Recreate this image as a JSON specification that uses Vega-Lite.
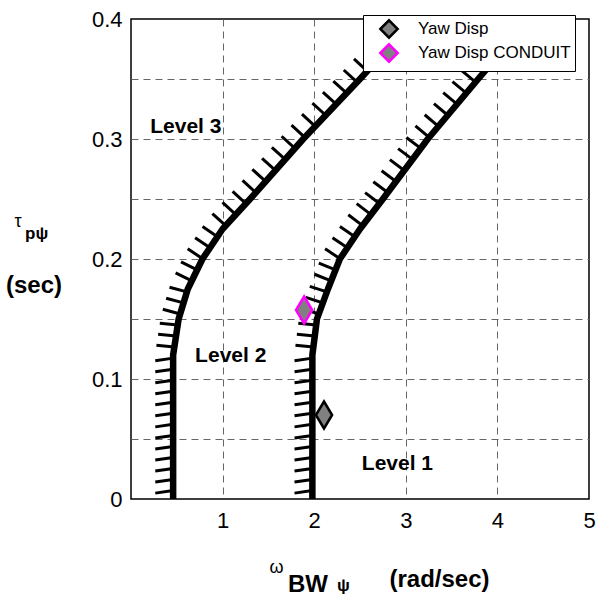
{
  "$schema": "https://vega.github.io/schema/vega-lite/v6.json",
  "width": 458,
  "height": 480,
  "autosize": {"type": "none"},
  "padding": {"left": 131, "top": 19, "right": 11, "bottom": 97},
  "background": "white",
  "config": {
    "font": "Liberation Sans",
    "view": {"stroke": "black", "strokeWidth": 1.5},
    "axis": {"labelColor": "black", "labelFont": "Liberation Sans"}
  },
  "datasets": {
    "curves": [
      {"c": "L", "x": 0.46, "y": 0}, {"c": "L", "x": 0.46, "y": 0.12}, {"c": "L", "x": 0.52, "y": 0.15},
      {"c": "L", "x": 0.62, "y": 0.175}, {"c": "L", "x": 0.78, "y": 0.2}, {"c": "L", "x": 1.0, "y": 0.225},
      {"c": "L", "x": 1.3, "y": 0.25}, {"c": "L", "x": 1.88, "y": 0.3}, {"c": "L", "x": 2.5, "y": 0.35},
      {"c": "L", "x": 3.1, "y": 0.4},
      {"c": "R", "x": 1.98, "y": 0}, {"c": "R", "x": 1.98, "y": 0.12}, {"c": "R", "x": 2.03, "y": 0.15},
      {"c": "R", "x": 2.15, "y": 0.175}, {"c": "R", "x": 2.28, "y": 0.2}, {"c": "R", "x": 2.5, "y": 0.225},
      {"c": "R", "x": 2.75, "y": 0.25}, {"c": "R", "x": 3.24, "y": 0.3}, {"c": "R", "x": 3.79, "y": 0.35},
      {"c": "R", "x": 4.35, "y": 0.4}
    ],
    "hatch": [
      {"c": "L", "x": 0.46, "y": 0.007, "x2": 0.265, "y2": 0.0049},
      {"c": "L", "x": 0.46, "y": 0.0162, "x2": 0.265, "y2": 0.0141},
      {"c": "L", "x": 0.46, "y": 0.0254, "x2": 0.265, "y2": 0.0233},
      {"c": "L", "x": 0.46, "y": 0.0346, "x2": 0.265, "y2": 0.0325},
      {"c": "L", "x": 0.46, "y": 0.0438, "x2": 0.265, "y2": 0.0417},
      {"c": "L", "x": 0.46, "y": 0.053, "x2": 0.265, "y2": 0.0509},
      {"c": "L", "x": 0.46, "y": 0.0622, "x2": 0.265, "y2": 0.0601},
      {"c": "L", "x": 0.46, "y": 0.0714, "x2": 0.265, "y2": 0.0693},
      {"c": "L", "x": 0.46, "y": 0.0806, "x2": 0.265, "y2": 0.0785},
      {"c": "L", "x": 0.46, "y": 0.0898, "x2": 0.265, "y2": 0.0877},
      {"c": "L", "x": 0.46, "y": 0.099, "x2": 0.265, "y2": 0.0969},
      {"c": "L", "x": 0.46, "y": 0.1082, "x2": 0.265, "y2": 0.1061},
      {"c": "L", "x": 0.46, "y": 0.1174, "x2": 0.265, "y2": 0.1153},
      {"c": "L", "x": 0.4732, "y": 0.1266, "x2": 0.2777, "y2": 0.1281},
      {"c": "L", "x": 0.4916, "y": 0.1358, "x2": 0.2961, "y2": 0.1373},
      {"c": "L", "x": 0.51, "y": 0.145, "x2": 0.3145, "y2": 0.1465},
      {"c": "L", "x": 0.5368, "y": 0.1542, "x2": 0.347, "y2": 0.1581},
      {"c": "L", "x": 0.5736, "y": 0.1634, "x2": 0.3838, "y2": 0.1673},
      {"c": "L", "x": 0.6104, "y": 0.1726, "x2": 0.4206, "y2": 0.1765},
      {"c": "L", "x": 0.6635, "y": 0.1818, "x2": 0.4869, "y2": 0.1884},
      {"c": "L", "x": 0.7224, "y": 0.191, "x2": 0.5458, "y2": 0.1976},
      {"c": "L", "x": 0.7818, "y": 0.2002, "x2": 0.6189, "y2": 0.2086},
      {"c": "L", "x": 0.8627, "y": 0.2094, "x2": 0.6998, "y2": 0.2178},
      {"c": "L", "x": 0.9437, "y": 0.2186, "x2": 0.7808, "y2": 0.227},
      {"c": "L", "x": 1.0336, "y": 0.2278, "x2": 0.8886, "y2": 0.2379},
      {"c": "L", "x": 1.144, "y": 0.237, "x2": 0.999, "y2": 0.2471},
      {"c": "L", "x": 1.2544, "y": 0.2462, "x2": 1.1094, "y2": 0.2563},
      {"c": "L", "x": 1.3626, "y": 0.2554, "x2": 1.2176, "y2": 0.2655},
      {"c": "L", "x": 1.4694, "y": 0.2646, "x2": 1.3244, "y2": 0.2747},
      {"c": "L", "x": 1.5761, "y": 0.2738, "x2": 1.4311, "y2": 0.2839},
      {"c": "L", "x": 1.6828, "y": 0.283, "x2": 1.5378, "y2": 0.2931},
      {"c": "L", "x": 1.7895, "y": 0.2922, "x2": 1.6445, "y2": 0.3023},
      {"c": "L", "x": 1.8974, "y": 0.3014, "x2": 1.7524, "y2": 0.3115},
      {"c": "L", "x": 2.0114, "y": 0.3106, "x2": 1.8664, "y2": 0.3207},
      {"c": "L", "x": 2.1255, "y": 0.3198, "x2": 1.9805, "y2": 0.3299},
      {"c": "L", "x": 2.2396, "y": 0.329, "x2": 2.0946, "y2": 0.3391},
      {"c": "L", "x": 2.3537, "y": 0.3382, "x2": 2.2087, "y2": 0.3483},
      {"c": "L", "x": 2.4678, "y": 0.3474, "x2": 2.3228, "y2": 0.3575},
      {"c": "L", "x": 2.5792, "y": 0.3566, "x2": 2.4342, "y2": 0.3667},
      {"c": "L", "x": 2.6896, "y": 0.3658, "x2": 2.5446, "y2": 0.3759},
      {"c": "L", "x": 2.8, "y": 0.375, "x2": 2.655, "y2": 0.3851},
      {"c": "L", "x": 2.9104, "y": 0.3842, "x2": 2.7654, "y2": 0.3943},
      {"c": "L", "x": 3.0208, "y": 0.3934, "x2": 2.8758, "y2": 0.4035},
      {"c": "R", "x": 1.98, "y": 0.007, "x2": 1.785, "y2": 0.0049},
      {"c": "R", "x": 1.98, "y": 0.0162, "x2": 1.785, "y2": 0.0141},
      {"c": "R", "x": 1.98, "y": 0.0254, "x2": 1.785, "y2": 0.0233},
      {"c": "R", "x": 1.98, "y": 0.0346, "x2": 1.785, "y2": 0.0325},
      {"c": "R", "x": 1.98, "y": 0.0438, "x2": 1.785, "y2": 0.0417},
      {"c": "R", "x": 1.98, "y": 0.053, "x2": 1.785, "y2": 0.0509},
      {"c": "R", "x": 1.98, "y": 0.0622, "x2": 1.785, "y2": 0.0601},
      {"c": "R", "x": 1.98, "y": 0.0714, "x2": 1.785, "y2": 0.0693},
      {"c": "R", "x": 1.98, "y": 0.0806, "x2": 1.785, "y2": 0.0785},
      {"c": "R", "x": 1.98, "y": 0.0898, "x2": 1.785, "y2": 0.0877},
      {"c": "R", "x": 1.98, "y": 0.099, "x2": 1.785, "y2": 0.0969},
      {"c": "R", "x": 1.98, "y": 0.1082, "x2": 1.785, "y2": 0.1061},
      {"c": "R", "x": 1.98, "y": 0.1174, "x2": 1.785, "y2": 0.1153},
      {"c": "R", "x": 1.991, "y": 0.1266, "x2": 1.7955, "y2": 0.1281},
      {"c": "R", "x": 2.0063, "y": 0.1358, "x2": 1.8108, "y2": 0.1373},
      {"c": "R", "x": 2.0217, "y": 0.145, "x2": 1.8262, "y2": 0.1465},
      {"c": "R", "x": 2.0502, "y": 0.1542, "x2": 1.8633, "y2": 0.1588},
      {"c": "R", "x": 2.0943, "y": 0.1634, "x2": 1.9074, "y2": 0.168},
      {"c": "R", "x": 2.1385, "y": 0.1726, "x2": 1.9516, "y2": 0.1772},
      {"c": "R", "x": 2.1854, "y": 0.1818, "x2": 2.0027, "y2": 0.1873},
      {"c": "R", "x": 2.2332, "y": 0.191, "x2": 2.0505, "y2": 0.1965},
      {"c": "R", "x": 2.2818, "y": 0.2002, "x2": 2.1189, "y2": 0.2086},
      {"c": "R", "x": 2.3627, "y": 0.2094, "x2": 2.1998, "y2": 0.2178},
      {"c": "R", "x": 2.4437, "y": 0.2186, "x2": 2.2808, "y2": 0.227},
      {"c": "R", "x": 2.528, "y": 0.2278, "x2": 2.3719, "y2": 0.2369},
      {"c": "R", "x": 2.62, "y": 0.237, "x2": 2.4639, "y2": 0.2461},
      {"c": "R", "x": 2.712, "y": 0.2462, "x2": 2.5559, "y2": 0.2553},
      {"c": "R", "x": 2.8029, "y": 0.2554, "x2": 2.6456, "y2": 0.2644},
      {"c": "R", "x": 2.8931, "y": 0.2646, "x2": 2.7358, "y2": 0.2736},
      {"c": "R", "x": 2.9832, "y": 0.2738, "x2": 2.8259, "y2": 0.2828},
      {"c": "R", "x": 3.0734, "y": 0.283, "x2": 2.9161, "y2": 0.292},
      {"c": "R", "x": 3.1636, "y": 0.2922, "x2": 3.0063, "y2": 0.3012},
      {"c": "R", "x": 3.2554, "y": 0.3014, "x2": 3.1049, "y2": 0.311},
      {"c": "R", "x": 3.3566, "y": 0.3106, "x2": 3.2061, "y2": 0.3202},
      {"c": "R", "x": 3.4578, "y": 0.3198, "x2": 3.3073, "y2": 0.3294},
      {"c": "R", "x": 3.559, "y": 0.329, "x2": 3.4085, "y2": 0.3386},
      {"c": "R", "x": 3.6602, "y": 0.3382, "x2": 3.5097, "y2": 0.3478},
      {"c": "R", "x": 3.7614, "y": 0.3474, "x2": 3.6109, "y2": 0.357},
      {"c": "R", "x": 3.8639, "y": 0.3566, "x2": 3.7145, "y2": 0.3663},
      {"c": "R", "x": 3.967, "y": 0.3658, "x2": 3.8176, "y2": 0.3755},
      {"c": "R", "x": 4.07, "y": 0.375, "x2": 3.9206, "y2": 0.3847},
      {"c": "R", "x": 4.173, "y": 0.3842, "x2": 4.0236, "y2": 0.3939},
      {"c": "R", "x": 4.2761, "y": 0.3934, "x2": 4.1267, "y2": 0.4031}
    ],
    "pts": [
      {"series": "Yaw Disp", "x": 2.107, "y": 0.07},
      {"series": "Yaw Disp CONDUIT", "x": 1.89, "y": 0.1575}
    ],
    "levels": [
      {"text": "Level 3", "x": 0.21, "y": 0.305},
      {"text": "Level 2", "x": 0.70, "y": 0.114},
      {"text": "Level 1", "x": 2.52, "y": 0.024}
    ],
    "titles": [
      {"role": "greek", "text": "τ", "x": -1.234, "y": 0.2267},
      {"role": "greek", "text": "ω", "x": 1.588, "y": -0.0617},
      {"role": "sub", "text": "pψ", "x": -1.157, "y": 0.2167},
      {"role": "sub", "text": "ψ", "x": 2.249, "y": -0.0765},
      {"role": "main", "text": "BW", "x": 1.714, "y": -0.0775},
      {"role": "unit", "text": "(sec)", "x": -1.059, "y": 0.1717},
      {"role": "unit", "text": "(rad/sec)", "x": 3.368, "y": -0.0733}
    ]
  },
  "layer": [
    {
      "data": {"name": "hatch"},
      "mark": {"type": "rule", "color": "black", "strokeWidth": 3, "clip": true},
      "encoding": {
        "x": {
          "field": "x", "type": "quantitative",
          "scale": {"domain": [0, 5], "nice": false, "zero": false},
          "axis": {
            "title": null, "values": [1, 2, 3, 4, 5], "format": "d",
            "grid": true, "gridColor": "#666666", "gridDash": [7, 5], "gridWidth": 1,
            "gridOpacity": {"condition": {"test": "datum.value > 4.99", "value": 0}, "value": 1},
            "ticks": false, "domain": false, "labelFontSize": 22, "labelPadding": 11, "labelFlush": false
          }
        },
        "y": {
          "field": "y", "type": "quantitative",
          "scale": {"domain": [0, 0.4], "nice": false, "zero": false},
          "axis": {
            "title": null, "values": [0, 0.05, 0.1, 0.15, 0.2, 0.25, 0.3, 0.35, 0.4], "format": ".1~f",
            "labelExpr": "round(datum.value * 20) % 2 == 0 ? datum.label : ''",
            "grid": true, "gridColor": "#666666", "gridDash": [7, 5], "gridWidth": 1,
            "gridOpacity": {"condition": {"test": "datum.value < 0.001 || datum.value > 0.399", "value": 0}, "value": 1},
            "ticks": false, "domain": false, "labelFontSize": 22, "labelPadding": 9, "labelFlush": false
          }
        },
        "x2": {"field": "x2"},
        "y2": {"field": "y2"},
        "detail": {"field": "c"}
      }
    },
    {
      "data": {"name": "curves"},
      "mark": {"type": "line", "color": "black", "strokeWidth": 6.5, "clip": true, "strokeJoin": "round", "strokeCap": "butt"},
      "encoding": {
        "x": {"field": "x", "type": "quantitative", "scale": {"domain": [0, 5], "nice": false, "zero": false}},
        "y": {"field": "y", "type": "quantitative", "scale": {"domain": [0, 0.4], "nice": false, "zero": false}},
        "detail": {"field": "c"},
        "order": {"field": "y", "type": "quantitative"}
      }
    },
    {
      "data": {"name": "pts"},
      "mark": {"type": "point", "shape": "M0,-1L0.6,0L0,1L-0.6,0Z", "size": 729, "filled": true, "fill": "#808080", "strokeWidth": 2.5, "opacity": 1},
      "encoding": {
        "x": {"field": "x", "type": "quantitative", "scale": {"domain": [0, 5], "nice": false, "zero": false}},
        "y": {"field": "y", "type": "quantitative", "scale": {"domain": [0, 0.4], "nice": false, "zero": false}},
        "stroke": {
          "field": "series", "type": "nominal",
          "scale": {"domain": ["Yaw Disp", "Yaw Disp CONDUIT"], "range": ["black", "#ff00ff"]},
          "legend": {
            "title": null, "orient": "none", "legendX": 232, "legendY": -4,
            "fillColor": "white", "strokeColor": "black", "padding": 4,
            "symbolType": "diamond", "symbolSize": 300, "symbolFillColor": "#808080", "symbolStrokeWidth": 2.5,
            "symbolOffset": 12, "labelFontSize": 17, "labelOffset": 19, "labelLimit": 400,
            "labelExpr": "datum.label + '          '", "rowPadding": -8, "labelColor": "black", "zindex": 5
          }
        }
      }
    },
    {
      "data": {"name": "levels"},
      "mark": {"type": "text", "align": "left", "baseline": "alphabetic", "fontWeight": "bold", "fontSize": 21, "color": "black"},
      "encoding": {
        "x": {"field": "x", "type": "quantitative", "scale": {"domain": [0, 5], "nice": false, "zero": false}},
        "y": {"field": "y", "type": "quantitative", "scale": {"domain": [0, 0.4], "nice": false, "zero": false}},
        "text": {"field": "text"}
      }
    },
    {
      "data": {"name": "titles"},
      "transform": [{"filter": "datum.role == 'greek'"}],
      "mark": {"type": "text", "align": "center", "baseline": "alphabetic", "fontSize": 18, "color": "black"},
      "encoding": {
        "x": {"field": "x", "type": "quantitative", "scale": {"domain": [0, 5], "nice": false, "zero": false}},
        "y": {"field": "y", "type": "quantitative", "scale": {"domain": [0, 0.4], "nice": false, "zero": false}},
        "text": {"field": "text"}
      }
    },
    {
      "data": {"name": "titles"},
      "transform": [{"filter": "datum.role == 'sub'"}],
      "mark": {"type": "text", "align": "left", "baseline": "alphabetic", "fontSize": 17, "fontWeight": "bold", "color": "black"},
      "encoding": {
        "x": {"field": "x", "type": "quantitative", "scale": {"domain": [0, 5], "nice": false, "zero": false}},
        "y": {"field": "y", "type": "quantitative", "scale": {"domain": [0, 0.4], "nice": false, "zero": false}},
        "text": {"field": "text"}
      }
    },
    {
      "data": {"name": "titles"},
      "transform": [{"filter": "datum.role == 'main'"}],
      "mark": {"type": "text", "align": "left", "baseline": "alphabetic", "fontSize": 24, "fontWeight": "bold", "color": "black"},
      "encoding": {
        "x": {"field": "x", "type": "quantitative", "scale": {"domain": [0, 5], "nice": false, "zero": false}},
        "y": {"field": "y", "type": "quantitative", "scale": {"domain": [0, 0.4], "nice": false, "zero": false}},
        "text": {"field": "text"}
      }
    },
    {
      "data": {"name": "titles"},
      "transform": [{"filter": "datum.role == 'unit'"}],
      "mark": {"type": "text", "align": "center", "baseline": "alphabetic", "fontSize": 24, "fontWeight": "bold", "color": "black"},
      "encoding": {
        "x": {"field": "x", "type": "quantitative", "scale": {"domain": [0, 5], "nice": false, "zero": false}},
        "y": {"field": "y", "type": "quantitative", "scale": {"domain": [0, 0.4], "nice": false, "zero": false}},
        "text": {"field": "text"}
      }
    }
  ]
}
